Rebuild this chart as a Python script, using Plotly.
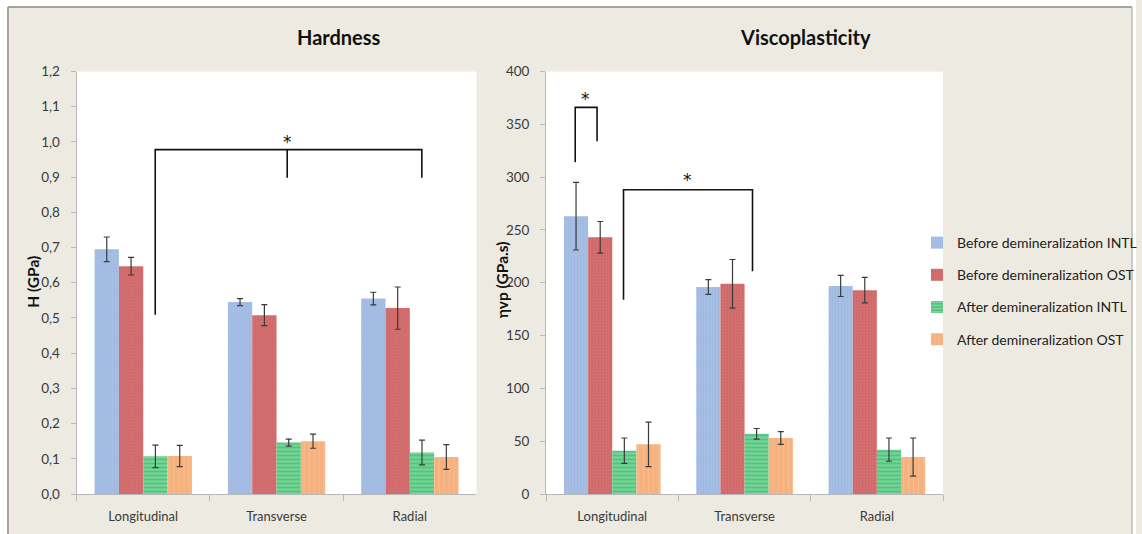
import plotly.graph_objects as go

W, H = 1142, 534

categories = ["Longitudinal", "Transverse", "Radial"]
series_names = ["Before demineralization INTL", "Before demineralization OST",
                "After demineralization INTL", "After demineralization OST"]

hard_vals = [[0.695, 0.545, 0.555],
             [0.647, 0.508, 0.528],
             [0.107, 0.146, 0.118],
             [0.108, 0.150, 0.105]]
hard_err = [[0.035, 0.010, 0.018],
            [0.025, 0.030, 0.060],
            [0.032, 0.010, 0.035],
            [0.030, 0.020, 0.035]]

visc_vals = [[263, 196, 197],
             [243, 199, 193],
             [41, 57, 42],
             [47, 53, 35]]
visc_err = [[32, 7, 10],
            [15, 23, 12],
            [12, 5, 11],
            [21, 6, 18]]

hard_ticks = [0.0, 0.1, 0.2, 0.3, 0.4, 0.5, 0.6, 0.7, 0.8, 0.9, 1.0, 1.1, 1.2]
hard_ticktext = ["0,0", "0,1", "0,2", "0,3", "0,4", "0,5", "0,6", "0,7", "0,8", "0,9", "1,0", "1,1", "1,2"]
visc_ticks = [0, 50, 100, 150, 200, 250, 300, 350, 400]

colors = ["#a8c0e4", "#d57070", "#52c47c", "#f6b27e"]
patterns = [
    dict(shape=".", fgcolor="#8ca8d6", size=3, solidity=0.35, fillmode="overlay"),
    dict(shape=".", fgcolor="#c05858", size=3, solidity=0.35, fillmode="overlay"),
    dict(shape="-", fgcolor="#c8f0d4", size=4, solidity=0.35, fillmode="overlay"),
    dict(shape="|", fgcolor="#f9c9a2", size=5, solidity=0.2, fillmode="overlay"),
]

FONT = "Lato"
TXT = "#3a3a3a"
BG = "#edebe1"

fig = go.Figure()

for i, name in enumerate(series_names):
    fig.add_trace(go.Bar(
        x=categories, y=hard_vals[i], name=name,
        marker=dict(color=colors[i], pattern=patterns[i], line=dict(width=0)),
        error_y=dict(type="data", array=hard_err[i], color="#3a3a3a", thickness=1.2, width=3),
        xaxis="x", yaxis="y", legendgroup=str(i), showlegend=True,
    ))
for i, name in enumerate(series_names):
    fig.add_trace(go.Bar(
        x=categories, y=visc_vals[i], name=name,
        marker=dict(color=colors[i], pattern=patterns[i], line=dict(width=0)),
        error_y=dict(type="data", array=visc_err[i], color="#3a3a3a", thickness=1.2, width=3),
        xaxis="x2", yaxis="y2", legendgroup=str(i), showlegend=False,
    ))


def px_x(x):
    return x / W


def px_y(y):
    return 1 - y / H


ydom = [px_y(494), px_y(71.5)]
xcommon = dict(type="category", showline=True, linecolor="#b8b8b8", linewidth=1,
               ticks="outside", tickson="boundaries", ticklen=6, tickcolor="#b8b8b8",
               tickfont=dict(family=FONT, size=13, color=TXT), showgrid=False,
               zeroline=False, fixedrange=True, automargin=False, ticklabelstandoff=10)
ycommon = dict(showline=True, linecolor="#b8b8b8", linewidth=1, ticks="outside",
               ticklen=5, tickcolor="#b8b8b8", showgrid=False, zeroline=False,
               tickfont=dict(family=FONT, size=13.5, color=TXT), domain=ydom,
               ticklabelstandoff=8, automargin=False)

fig.update_layout(
    template="none",
    width=W, height=H, margin=dict(l=0, r=0, t=0, b=0, pad=0), autosize=False,
    paper_bgcolor=BG, plot_bgcolor="white",
    barmode="group", bargap=0.27, bargroupgap=0,
    xaxis=dict(domain=[px_x(77), px_x(479)], anchor="y", range=[-0.5, 2.5], **xcommon),
    yaxis=dict(anchor="x", range=[0, 1.2], tickvals=hard_ticks, ticktext=hard_ticktext, **ycommon),
    xaxis2=dict(domain=[px_x(549), px_x(948)], anchor="y2", range=[-0.5, 2.5], **xcommon),
    yaxis2=dict(anchor="x2", range=[0, 400], tickvals=visc_ticks, **ycommon),
    legend=dict(x=px_x(922), y=px_y(227), xanchor="left", yanchor="top",
                font=dict(family=FONT, size=14, color="#222222"),
                bgcolor="rgba(0,0,0,0)", traceorder="grouped", tracegroupgap=11,
                itemwidth=30),
    showlegend=True,
)

annotations = [
    dict(text="<b>Hardness</b>", x=px_x(341), y=px_y(37), xref="paper", yref="paper",
         xanchor="center", yanchor="middle",
         showarrow=False, font=dict(family=FONT, size=20, color="#111111")),
    dict(text="<b>Viscoplasticity</b>", x=px_x(810), y=px_y(37), xref="paper", yref="paper",
         xanchor="center", yanchor="middle",
         showarrow=False, font=dict(family=FONT, size=20, color="#111111")),
    dict(text="<b>H (GPa)</b>", x=px_x(33), y=px_y(282), xref="paper", yref="paper",
         xanchor="center", yanchor="middle",
         showarrow=False, textangle=-90, font=dict(family=FONT, size=15.5, color="#111111")),
    dict(text="<b>ηvp (GPa.s)</b>", x=px_x(505), y=px_y(280), xref="paper", yref="paper",
         xanchor="center", yanchor="middle",
         showarrow=False, textangle=-90, font=dict(family=FONT, size=15.5, color="#111111")),
    dict(text="*", x=1.08, y=1.0, xref="x", yref="y", showarrow=False,
         xanchor="center", yanchor="middle",
         font=dict(family="DejaVu Sans", size=17, color="#111111")),
    dict(text="*", x=-0.2, y=374, xref="x2", yref="y2", showarrow=False,
         xanchor="center", yanchor="middle",
         font=dict(family="DejaVu Sans", size=17, color="#111111")),
    dict(text="*", x=0.57, y=297, xref="x2", yref="y2", showarrow=False,
         xanchor="center", yanchor="middle",
         font=dict(family="DejaVu Sans", size=17, color="#111111")),
]

LC = "#111111"
LW = 1.6
shapes = [
    dict(type="path", xref="x", yref="y", path="M 0.09 0.509 L 0.09 0.978 L 2.09 0.978 L 2.09 0.898",
         line=dict(color=LC, width=LW)),
    dict(type="line", xref="x", yref="y", x0=1.08, x1=1.08, y0=0.978, y1=0.898,
         line=dict(color=LC, width=LW)),
    dict(type="path", xref="x2", yref="y2", path="M -0.28 314 L -0.28 366 L -0.115 366 L -0.115 334",
         line=dict(color=LC, width=LW)),
    dict(type="path", xref="x2", yref="y2", path="M 0.085 184 L 0.085 288 L 1.06 288 L 1.06 211",
         line=dict(color=LC, width=LW)),
    dict(type="rect", xref="paper", yref="paper", x0=0, x1=1, y0=px_y(7), y1=1,
         fillcolor="white", line=dict(width=0), layer="above"),
    dict(type="rect", xref="paper", yref="paper", x0=0, x1=px_x(8), y0=0, y1=1,
         fillcolor="white", line=dict(width=0), layer="above"),
    dict(type="rect", xref="paper", yref="paper", x0=px_x(1138), x1=1, y0=0, y1=1,
         fillcolor="white", line=dict(width=0), layer="above"),
    dict(type="line", xref="paper", yref="paper", x0=px_x(8), x1=px_x(1138), y0=px_y(7), y1=px_y(7),
         line=dict(color="#8a8a8a", width=1.5), layer="above"),
    dict(type="line", xref="paper", yref="paper", x0=px_x(8), x1=px_x(8), y0=0, y1=px_y(7),
         line=dict(color="#8a8a8a", width=1.5), layer="above"),
    dict(type="line", xref="paper", yref="paper", x0=px_x(1138), x1=px_x(1138), y0=0, y1=px_y(7),
         line=dict(color="#bdbdb5", width=1.5), layer="above"),
]

fig.update_layout(annotations=annotations, shapes=shapes)
fig.write_html("out.html", config={"displayModeBar": False},
               post_script="document.body.style.margin='0';document.body.style.overflow='hidden';")
